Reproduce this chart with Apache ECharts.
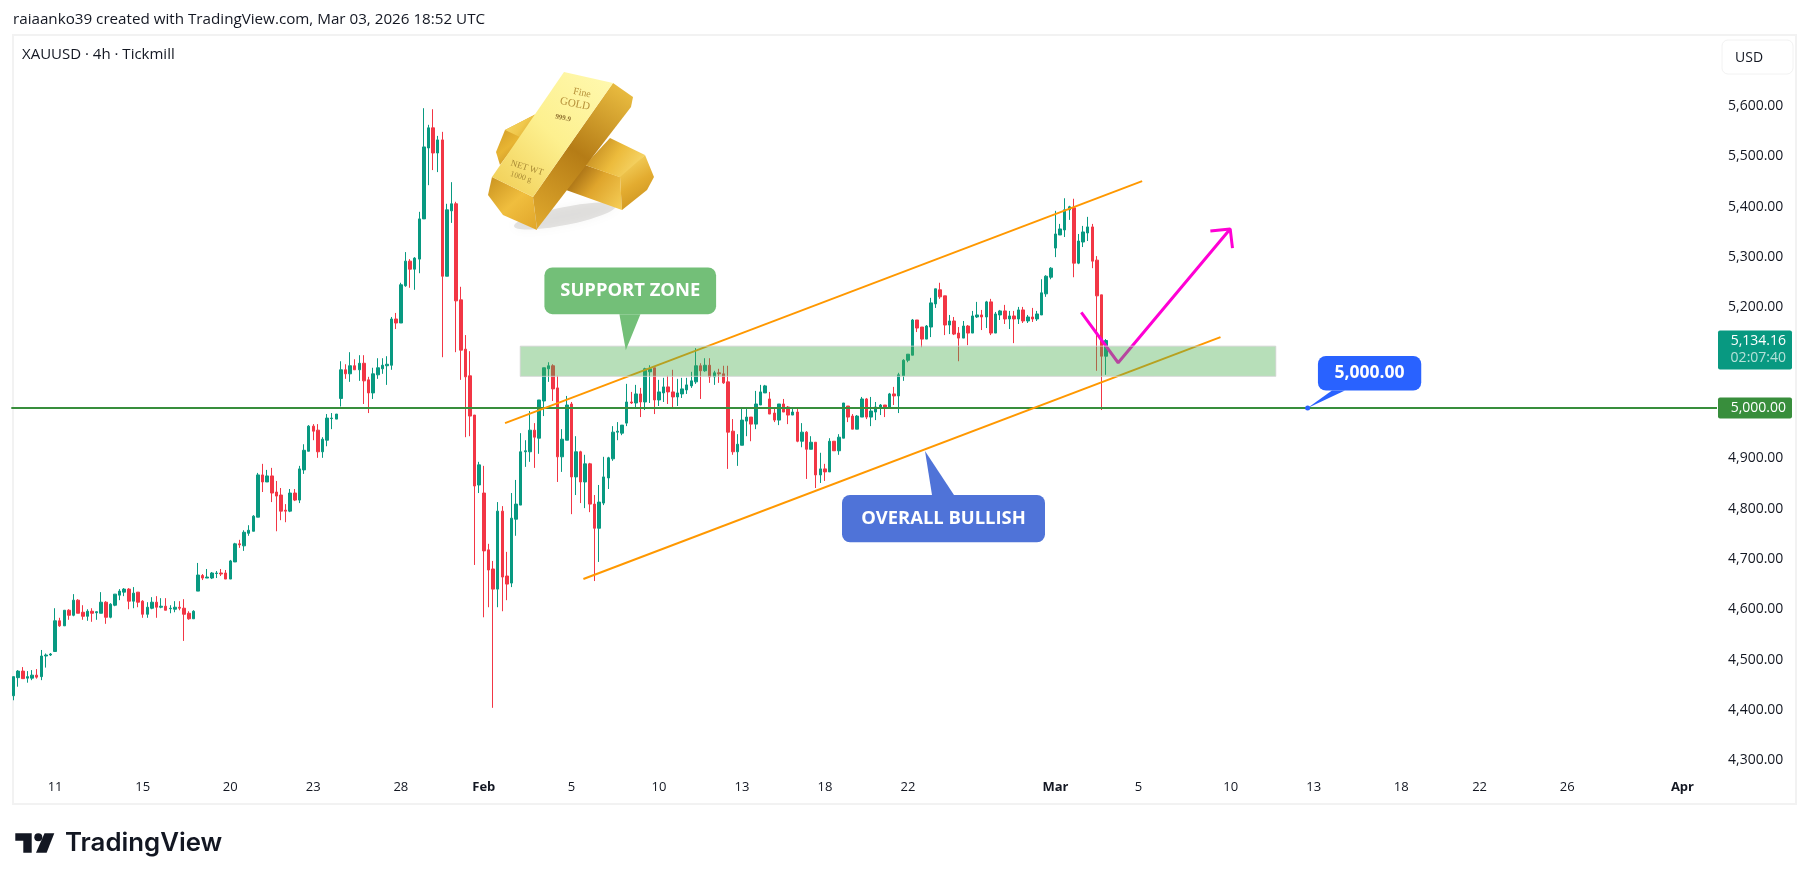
<!DOCTYPE html>
<html>
<head>
<meta charset="utf-8">
<title>XAUUSD 4h</title>
<script src="https://cdn.jsdelivr.net/npm/echarts@6/dist/echarts.min.js"></script>
<style>
    html, body { margin: 0; padding: 0; background: #fff; }
    #main { width: 1810px; height: 883px; }
</style>
</head>
<body>
<div id="main"></div>
<script type="text/javascript">
var slotCount = 370;
var tickIndex = [9, 28, 47, 65, 84, 102, 121, 140, 158, 176, 194, 226, 244, 264, 282, 301, 318, 337, 362];
var tickText = ['11', '15', '20', '23', '28', 'Feb', '5', '10', '13', '18', '22', 'Mar', '5', '10', '13', '18', '22', '26', 'Apr'];
var priceTicks = [4300, 4400, 4500, 4600, 4700, 4800, 4900, 5000, 5100, 5200, 5300, 5400, 5500, 5600];

var opens = [
    4428,4464,4477,4463,4463,4469,4466,4507,4509,4516,
    4577,4567,4598,4588,4618,4594,4586,4596,4593,4592,
    4614,4584,4608,4628,4634,4640,4616,4634,4616,4590,
    4602,4614,4604,4606,4601,4600,4604,4602,4592,4581,
    4636,4667,4662,4662,4671,4672,4672,4660,4694,4730,
    4726,4751,4755,4783,4867,4853,4865,4833,4827,4797,
    4795,4831,4817,4877,4914,4964,4956,4913,4936,4979,
    4978,5019,5076,5068,5084,5076,5089,5056,5030,5066,
    5078,5084,5085,5177,5169,5243,5292,5276,5296,5376,
    5517,5557,5507,5533,5262,5392,5406,5215,5117,5064,
    4986,4847,4831,4718,4680,4640,4795,4666,4652,4779,
    4807,4913,4913,4956,4940,5014,5078,5084,5040,4903,
    4936,5008,4863,4913,4853,4889,4809,4761,4811,4861,
    4899,4952,4950,4970,5012,5010,5028,5012,5072,5080,
    5016,5030,5042,5032,5022,5028,5036,5044,5052,5084,
    5074,5085,5062,5070,5068,5052,4954,4913,4926,4974,
    4982,4968,5006,5030,5018,4990,4976,5008,5002,4986,
    4992,4934,4952,4918,4932,4867,4879,4873,4934,4915,
    4940,5004,4984,4958,4982,5018,4982,4992,5000,5006,
    5000,5028,5024,5064,5095,5105,5175,5161,5137,5161,
    5207,5235,5223,5165,5173,5149,5139,5163,5149,5181,
    5185,5181,5211,5149,5185,5193,5177,5183,5177,5195,
    5173,5181,5177,5185,5227,5260,5318,5344,5354,5394,
    5398,5288,5330,5348,5360,5294,5225,5103
];
var closes = [
    4466,4477,4462,4466,4469,4465,4507,4509,4511,4577,
    4567,4598,4588,4618,4592,4586,4596,4592,4595,4614,
    4584,4610,4630,4636,4640,4616,4632,4614,4590,4604,
    4614,4604,4606,4598,4602,4604,4602,4590,4581,4596,
    4668,4662,4664,4672,4672,4670,4660,4696,4730,4728,
    4753,4757,4785,4867,4853,4865,4831,4825,4795,4795,
    4831,4817,4879,4916,4964,4954,4913,4938,4980,4980,
    4988,5076,5068,5084,5076,5089,5054,5030,5068,5080,
    5085,5087,5177,5169,5245,5292,5276,5298,5376,5519,
    5557,5507,5533,5262,5394,5406,5213,5115,5062,4984,
    4845,4887,4716,4678,4640,4795,4664,4650,4781,4809,
    4913,4915,4956,4942,5016,5080,5084,5038,4903,4938,
    5006,4863,4913,4853,4889,4809,4761,4813,4863,4901,
    4952,4954,4966,5012,5010,5028,5012,5078,5078,5016,
    5032,5042,5032,5022,5030,5038,5046,5054,5084,5074,
    5085,5062,5070,5068,5050,4952,4913,4928,4976,4982,
    4968,5008,5032,5044,4988,4976,5008,4992,4986,4992,
    4934,4952,4918,4932,4867,4879,4873,4934,4915,4942,
    5010,4982,4958,4984,5018,4982,4994,5002,5006,5000,
    5028,5024,5066,5095,5107,5175,5159,5137,5163,5209,
    5237,5221,5165,5173,5147,5139,5163,5149,5183,5185,
    5181,5211,5149,5187,5193,5177,5183,5177,5195,5173,
    5181,5177,5187,5229,5262,5278,5346,5356,5394,5400,
    5288,5332,5350,5360,5292,5223,5103,5134.16
];
var lows = [
    4419,4446,4462,4454,4459,4462,4459,4484,4507,4516,
    4565,4567,4579,4586,4592,4579,4577,4575,4579,4592,
    4571,4582,4606,4618,4626,4600,4602,4604,4583,4583,
    4600,4583,4602,4598,4592,4594,4598,4537,4579,4581,
    4636,4658,4662,4660,4662,4666,4660,4660,4694,4722,
    4716,4746,4755,4783,4833,4853,4813,4755,4777,4773,
    4793,4815,4811,4869,4914,4936,4901,4901,4924,4958,
    4978,5003,5058,5052,5076,5054,5008,4990,5018,5058,
    5068,5046,5076,5157,5169,5241,5239,5235,5268,5376,
    5443,5473,5469,5101,5262,5368,5111,5056,4942,4944,
    4688,4831,4584,4604,4404,4604,4596,4618,4644,4746,
    4807,4883,4893,4881,4909,4984,5052,5014,4853,4873,
    4936,4789,4827,4811,4801,4793,4656,4694,4807,4839,
    4895,4936,4946,4964,5008,5002,4982,4996,5010,4988,
    5004,5012,5008,5000,5004,5020,5028,5040,5048,5018,
    5072,5050,5046,5050,5048,4879,4907,4885,4926,4944,
    4934,4958,5006,5030,4988,4972,4966,4992,4968,4986,
    4932,4922,4859,4918,4841,4851,4855,4873,4915,4907,
    4940,4972,4958,4958,4982,4978,4964,4976,4986,4982,
    5000,5006,4990,5054,5091,5105,5151,5121,5137,5141,
    5199,5217,5145,5147,5145,5093,5139,5125,5149,5179,
    5155,5159,5145,5149,5175,5167,5157,5129,5167,5169,
    5169,5171,5173,5185,5221,5256,5300,5344,5340,5374,
    5260,5286,5320,5332,5278,5074,4996,5066
];
var highs = [
    4466,4479,4485,4477,4479,4481,4519,4512,4513,4602,
    4583,4598,4600,4630,4620,4608,4600,4602,4596,4634,
    4616,4612,4630,4640,4642,4642,4644,4634,4618,4614,
    4624,4626,4622,4622,4608,4616,4616,4620,4596,4598,
    4692,4670,4680,4674,4676,4680,4678,4698,4732,4738,
    4757,4767,4787,4871,4889,4877,4881,4855,4841,4809,
    4839,4839,4885,4928,4966,4968,4968,4942,4988,4990,
    4988,5093,5087,5111,5097,5105,5105,5062,5080,5099,
    5099,5103,5181,5189,5249,5310,5296,5300,5390,5596,
    5563,5594,5541,5549,5406,5449,5410,5241,5145,5113,
    4986,4893,4885,4730,4696,4813,4805,4714,4831,4857,
    4950,4936,4994,4970,5016,5080,5091,5087,5064,4958,
    5024,5012,4944,4915,4907,4891,4827,4847,4903,4903,
    4964,4972,4966,5048,5032,5046,5040,5080,5085,5080,
    5056,5060,5064,5076,5058,5060,5060,5072,5119,5089,
    5099,5099,5074,5078,5084,5084,4978,4948,4998,4998,
    4982,5034,5046,5046,5032,4998,5008,5018,5004,4998,
    4998,4970,4954,4944,4932,4911,4889,4940,4934,4948,
    5010,5004,4988,4986,5022,5020,5022,5012,5008,5006,
    5030,5042,5070,5097,5107,5177,5175,5161,5165,5219,
    5237,5249,5223,5185,5181,5161,5173,5165,5193,5211,
    5195,5213,5217,5191,5195,5205,5193,5193,5201,5201,
    5185,5199,5193,5256,5264,5280,5392,5366,5417,5402,
    5416,5346,5362,5380,5366,5302,5225,5137
];

// drawings, in [bar number, price]
var upperChannel = [[106.6, 4970], [244.8, 5451]];
var lowerChannel = [[123.6, 4660], [261.8, 5141]];
var forecastPath = [[231.6, 5190], [239.6, 5090], [263.9, 5356]];
var forecastHead = [[259.6, 5352], [263.9, 5356], [264.4, 5318]];
var supportZone = [[109.9, 5123], [273.8, 5063]];
var keyLevel = 5000;
var lastPrice = 5134.16;

var categories = [];
for (var i = 0; i < slotCount; i++) {
    var at = tickIndex.indexOf(i);
    categories.push(at >= 0 ? tickText[at] : '');
}
var candles = opens.map(function (o, i) { return [o, closes[i], lows[i], highs[i]]; });

var font = '"Open Sans", sans-serif';
var green = '#089981', red = '#f23645', orange = '#ff9800', magenta = '#ff00d4', lineGreen = '#388e3c';

function drawingLine(points, color, width) {
    return {
        type: 'line', xAxisIndex: 1, yAxisIndex: 0, data: points, showSymbol: false, symbol: 'none', silent: true, z: 3,
        lineStyle: {color: color, width: width}, animation: false
    };
}

var myChart = echarts.init(document.getElementById('main'));
var option = {
    animation: false,
    backgroundColor: '#ffffff',
    grid: {left: 11.3, width: 1705.7, top: 55.9, height: 714.3},
    xAxis: [
        {
            type: 'category', data: categories,
            axisLine: {show: false}, axisTick: {show: false}, splitLine: {show: false},
            axisLabel: {
                interval: 0, margin: 11, color: '#131722', fontFamily: font, fontSize: 13,
                formatter: function (v) {
                    return /^[A-Z]/.test(v) ? '{b|' + v + '}' : v;
                },
                rich: {b: {fontWeight: 'bold', fontFamily: font, fontSize: 13, color: '#131722'}}
            }
        },
        {type: 'value', min: -0.5, max: slotCount - 0.5, show: false}
    ],
    yAxis: {
        type: 'value', position: 'right', min: 4280, max: 5700, scale: true,
        axisLine: {show: false}, axisTick: {show: false}, splitLine: {show: false},
        axisLabel: {
            customValues: priceTicks, margin: 11, color: '#131722', fontFamily: font, fontSize: 14,
            formatter: function (v) {
                return v.toLocaleString('en-US', {minimumFractionDigits: 2});
            }
        }
    },
    series: [
        {
            type: 'candlestick', data: candles, barWidth: 3, z: 2, silent: true,
            itemStyle: {color: green, color0: red, borderColor: green, borderColor0: red, borderWidth: 1}
        },
        drawingLine([[-0.5, keyLevel], [slotCount - 0.5, keyLevel]], lineGreen, 2),
        drawingLine(upperChannel, orange, 2),
        drawingLine(lowerChannel, orange, 2),
        drawingLine(forecastPath, magenta, 3),
        drawingLine(forecastHead, magenta, 3),
        {
            type: 'custom', xAxisIndex: 1, yAxisIndex: 0, z: 5, silent: true,
            data: [[supportZone[0][0], supportZone[0][1], supportZone[1][0], supportZone[1][1]]],
            renderItem: function (params, api) {
                var a = api.coord([api.value(0), api.value(1)]);
                var b = api.coord([api.value(2), api.value(3)]);
                return {
                    type: 'rect',
                    shape: {x: a[0], y: a[1], width: b[0] - a[0], height: b[1] - a[1]},
                    style: {fill: 'rgba(76,175,80,0.4)', stroke: 'rgba(210,210,210,0.8)', lineWidth: 1}
                };
            }
        }
    ]
};
myChart.setOption(option);

function toPx(bar, price) {
    return myChart.convertToPixel({xAxisIndex: 1, yAxisIndex: 0}, [bar, price]);
}
function poly(points, fill, extra) {
    var el = {type: 'polygon', shape: {points: points}, style: {fill: fill}, z: 20, silent: true};
    if (extra) { for (var k in extra) { el.style[k] = extra[k]; } }
    return el;
}
function txt(x, y, text, size, color, align, weight, family, rotation) {
    return {
        type: 'text', x: x, y: y, z: 30, silent: true, rotation: rotation || 0,
        style: {
            text: text, fill: color, font: (weight || 'normal') + ' ' + size + 'px ' + (family || font),
            align: align || 'left', verticalAlign: 'middle'
        }
    };
}
function grad(x, y, x2, y2, c0, c1, c2) {
    return {type: 'linear', x: x, y: y, x2: x2, y2: y2, global: false, colorStops: [
        {offset: 0, color: c0}, {offset: 0.5, color: c1}, {offset: 1, color: c2}
    ]};
}
// balloon: box relative to its tip, with the tail base on one box edge
function callout(text, bar, price, color, dx, dy, w, h, baseA, baseB, edgeY, size) {
    var tip = toPx(bar, price);
    var left = tip[0] + dx, top = tip[1] + dy;
    return [
        {type: 'rect', z: 20, silent: true, shape: {x: left, y: top, width: w, height: h, r: 8}, style: {fill: color}},
        poly([[left + baseA, top + edgeY], [left + baseB, top + edgeY], tip], color),
        txt(left + w / 2, top + h / 2, text, size, '#ffffff', 'center', '700', font)
    ];
}

var els = [];
// chart frame
els.push({type: 'rect', z: 1, silent: true, shape: {x: 13, y: 35, width: 1783, height: 769}, style: {fill: 'none', stroke: '#f2f2f2', lineWidth: 2}});

// header
els.push(txt(13, 20, 'raiaanko39 created with TradingView.com, Mar 03, 2026 18:52 UTC', 15.2, '#131722'));
els.push(txt(22, 55, 'XAUUSD \u00b7 4h \u00b7 Tickmill', 15, '#131722'));
els.push({type: 'rect', z: 20, silent: true, shape: {x: 1722, y: 40, width: 71, height: 34, r: 6}, style: {fill: '#fff', stroke: '#f2f2f2', lineWidth: 1}});
els.push(txt(1735, 58, 'USD', 14, '#131722'));

// gold bars picture
els.push({type: 'ellipse', z: 19, silent: true, rotation: 0.2, x: 565, y: 216, shape: {cx: 0, cy: 0, rx: 52, ry: 9}, style: {fill: 'rgba(130,125,120,0.2)', shadowBlur: 10, shadowColor: 'rgba(130,125,120,0.35)'}});
els.push(poly([[496, 152], [505, 130], [540, 112], [500, 165]], grad(0, 0, 1, 1, '#c48c1e', '#e8b533', '#a9721a')));
els.push(poly([[505, 130], [540, 112], [522, 138]], grad(0, 0, 1, 1, '#f7dc70', '#f0c84c', '#d09a24')));
els.push(poly([[566, 190], [585, 165], [620, 177], [622, 210]], grad(0, 0, 1, 1, '#8a5408', '#dfa52c', '#f6cf58')));
els.push(poly([[610, 138], [645, 155], [622, 178], [585, 165]], grad(0, 0, 1, 1, '#b47a16', '#ecbb3c', '#fae07a')));
els.push(poly([[645, 155], [654, 177], [647, 190], [622, 210], [620, 177]], grad(0, 0, 1, 1, '#f9dc6c', '#e3ac30', '#c48a1a')));
els.push(poly([[492, 177], [533, 197], [537, 230], [503, 215], [488, 195]], grad(0, 0, 1, 1, '#c9921f', '#f0be3e', '#e0a52a')));
els.push(poly([[613, 83], [633, 97], [631, 107], [537, 229], [533, 197]], grad(1, 0, 0, 1, '#efc345', '#b57c16', '#e2ab2e')));
els.push(poly([[564, 72], [613, 83], [533, 197], [492, 177]], grad(0, 1, 1, 0, '#f0cc52', '#fdf08f', '#fff9b0')));
els.push(txt(582, 93, 'Fine', 10, '#b7913a', 'center', 'normal', '"Liberation Serif", serif', -0.2));
els.push(txt(575, 104, 'GOLD', 11, '#b7913a', 'center', 'normal', '"Liberation Serif", serif', -0.2));
els.push(txt(563, 118, '999.9', 7, '#8f7030', 'center', 'bold', '"Liberation Serif", serif', -0.2));
els.push(txt(527, 168, 'NET WT', 9, '#a98a35', 'center', 'normal', '"Liberation Serif", serif', -0.3));
els.push(txt(521, 177, '1000 g', 8, '#a98a35', 'center', 'normal', '"Liberation Serif", serif', -0.3));

// balloons
els = els.concat(callout('SUPPORT ZONE', 132.8, 5115, '#73bf78', -81.4, -82.7, 171.7, 46.7, 75, 96, 46.7, 18.4));
els = els.concat(callout('OVERALL BULLISH', 197.7, 4914.5, '#4f73d8', -83, 44, 203, 47.3, 90, 112, 0, 18.4));
els = els.concat(callout('5,000.00', 280.7, keyLevel, '#2962ff', 10.3, -52, 103.3, 34.5, 14, 27, 34.5, 17.5));
var dot = toPx(280.7, keyLevel);
els.push({type: 'circle', z: 21, silent: true, shape: {cx: dot[0], cy: dot[1], r: 2.5}, style: {fill: '#2962ff'}});

// price tags on the scale
var pLast = toPx(0, lastPrice), pKey = toPx(0, keyLevel);
els.push({type: 'rect', z: 20, silent: true, shape: {x: 1718, y: pLast[1] - 10, width: 74, height: 39, r: 2}, style: {fill: green}});
els.push(txt(1786, pLast[1] + 0.5, lastPrice.toLocaleString('en-US'), 14, '#ffffff', 'right'));
els.push(txt(1786, pLast[1] + 17, '02:07:40', 14, 'rgba(255,255,255,0.7)', 'right'));
els.push({type: 'rect', z: 20, silent: true, shape: {x: 1718, y: pKey[1] - 10.5, width: 74, height: 21, r: 2}, style: {fill: lineGreen}});
els.push(txt(1786, pKey[1], '5,000.00', 14, '#ffffff', 'right'));

// TradingView wordmark
els.push(poly([[15.3, 833.3], [31.7, 833.3], [31.7, 852.7], [23.3, 852.7], [23.3, 840.7], [15.3, 840.7]], '#131722'));
els.push({type: 'circle', z: 20, silent: true, shape: {cx: 38.3, cy: 837.3, r: 4}, style: {fill: '#131722'}});
els.push(poly([[44.5, 833.3], [54.3, 833.3], [46.6, 852.7], [36, 852.7]], '#131722'));
els.push(txt(65, 843, 'TradingView', 25.8, '#131722', 'left', '600', 'Inter, sans-serif'));

myChart.setOption({graphic: {elements: els}});
</script>
</body>
</html>
